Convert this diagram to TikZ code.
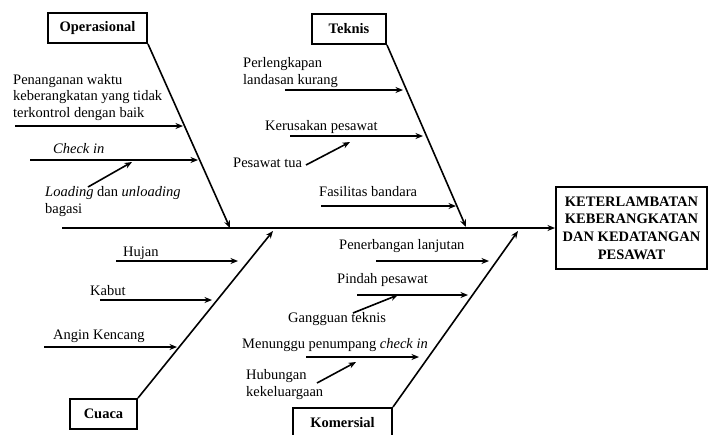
\documentclass[tikz,border=0pt]{standalone}
\usepackage{fontspec}
\setmainfont{Liberation Serif}
\usetikzlibrary{arrows.meta}
\tikzset{
  cause/.style={draw,line width=2pt,inner sep=0pt,minimum height=30pt,
    font=\fontsize{14.5}{16.5}\selectfont\bfseries},
  arr/.style={-{Stealth[length=7.5pt,width=6pt]},line width=1.6pt},
  lbl/.style={anchor=base west,inner sep=0pt,align=left}
}
\begin{document}
\begin{tikzpicture}[x=1pt,y=-1pt,font=\fontsize{14.5}{16.5}\selectfont]
  \useasboundingbox (0,0) rectangle (708,434);
  % category boxes and the effect
  \node[cause,minimum width=99pt] (op) at (97.5,28) {Operasional};
  \node[cause,minimum width=74pt] (tek) at (349,29) {Teknis};
  \node[cause,minimum width=67pt] (cu) at (103.5,414) {Cuaca};
  \node[cause,minimum width=99pt] (kom) at (342.5,423) {Komersial};
  \node[cause,minimum width=151pt,minimum height=82pt,align=center,
    font=\fontsize{14.5}{17.7}\selectfont\bfseries] (eff) at (631.5,228)
    {KETERLAMBATAN\\KEBERANGKATAN\\DAN KEDATANGAN\\PESAWAT};
  % spine and bones
  \coordinate (tail) at (62,228);
  \coordinate (opE) at (230,228);
  \coordinate (tekE) at (466,227);
  \coordinate (cuE) at (273,231);
  \coordinate (komE) at (518,231);
  \path[arr,line width=1.8pt] (tail) edge (eff.west);
  \path[arr]
    (op.south east) edge (opE)
    (tek.south east) edge (tekE)
    (cu.north east) edge (cuE)
    (kom.north east) edge (komE);
  % causes (multi-line nodes sit on their last baseline)
  \node[lbl] (handling) at (13,117) {Penanganan waktu\\keberangkatan yang tidak\\terkontrol dengan baik};
  \node[lbl] (checkin) at (53,153) {\textit{Check in}};
  \node[lbl] (loading) at (45,213) {\textit{Loading} dan \textit{unloading}\\bagasi};
  \node[lbl] (landasan) at (243,84) {Perlengkapan\\landasan kurang};
  \node[lbl] (rusak) at (265,130) {Kerusakan pesawat};
  \node[lbl] (tua) at (233,167) {Pesawat tua};
  \node[lbl] (fasilitas) at (319,196) {Fasilitas bandara};
  \node[lbl] (hujan) at (123,256) {Hujan};
  \node[lbl] (kabut) at (90,295) {Kabut};
  \node[lbl] (angin) at (53,339) {Angin Kencang};
  \node[lbl] (lanjutan) at (339,249) {Penerbangan lanjutan};
  \node[lbl] (pindah) at (337,283) {Pindah pesawat};
  \node[lbl] (gangguan) at (288,322) {Gangguan teknis};
  \node[lbl] (menunggu) at (242,348) {Menunggu penumpang \textit{check in}};
  \node[lbl] (keluarga) at (246,396) {Hubungan\\kekeluargaan};
  \foreach \n/\xa/\ya/\xb/\yb in {
      1/15/126/183/126, 2/30/160/198/160, 3/88/187/132/162,
      4/285/90/403/90, 5/290/136/423/136, 6/306/165/350/142,
      7/321/206/456/206, 8/116/261/238/261, 9/100/300/212/300,
      10/44/347/177/347, 11/376/261/489/261, 12/357/295/468/295,
      13/353/313/398/295, 14/306/357/419/357, 15/317/383/356/362}
  {
    \coordinate (s\n) at (\xa,\ya);
    \coordinate (e\n) at (\xb,\yb);
    \path[arr] (s\n) edge (e\n);
  }
\end{tikzpicture}
\end{document}
